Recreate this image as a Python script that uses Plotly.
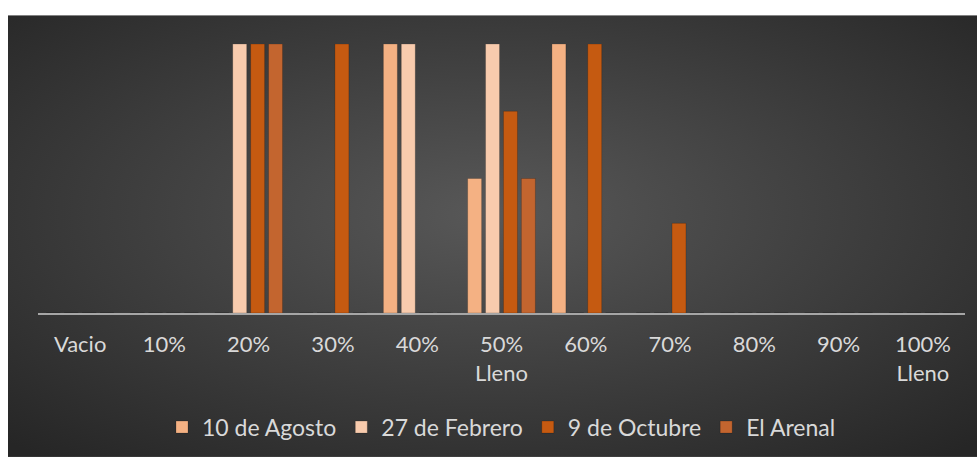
import base64
import plotly.graph_objects as go

# categories on the x axis
categories = ["Vacio", "10%", "20%", "30%", "40%", "50%<br>Lleno",
              "60%", "70%", "80%", "90%", "100%<br>Lleno"]

# series values (axis max = 12)
agosto_10 = [0, 0, 0, 0, 12, 6, 12, 0, 0, 0, 0]
febrero_27 = [0, 0, 12, 0, 12, 12, 0, 0, 0, 0, 0]
octubre_9 = [0, 0, 12, 12, 0, 9, 12, 4, 0, 0, 0]
el_arenal = [0, 0, 12, 0, 0, 6, 0, 0, 0, 0, 0]

series = [
    ("10 de Agosto", agosto_10, "#F4B183"),
    ("27 de Febrero", febrero_27, "#F8CBAD"),
    ("9 de Octubre", octubre_9, "#C55A11"),
    ("El Arenal", el_arenal, "#C3652F"),
]

# radial gradient background as an svg image
svg = """<svg xmlns='http://www.w3.org/2000/svg' width='969' height='445' preserveAspectRatio='none'>
<defs><radialGradient id='g' cx='0.5' cy='0.45' r='0.72'>
<stop offset='0' stop-color='#585858'/><stop offset='1' stop-color='#262626'/>
</radialGradient></defs>
<rect width='969' height='445' fill='url(#g)'/></svg>"""
bg_src = "data:image/svg+xml;base64," + base64.b64encode(svg.encode()).decode()

W, H = 977, 460
L, R, T, B = 38, 12, 44, 145
pw, ph = W - L - R, H - T - B
BG_X, BG_Y = 8, 15  # white border left / top of the dark area

fig = go.Figure()
for name, vals, col in series:
    fig.add_trace(go.Bar(
        x=categories, y=vals, name=name,
        marker=dict(color=col, line=dict(width=1, color="rgba(0,0,0,0.18)")),
    ))

fig.update_layout(
    width=W, height=H,
    margin=dict(l=L, r=R, t=T, b=B),
    paper_bgcolor="white",
    plot_bgcolor="rgba(0,0,0,0)",
    barmode="group",
    bargap=0.15,
    bargroupgap=0.22,
    font=dict(family="Lato, Calibri, sans-serif", color="#D9D9D9", size=22),
    showlegend=True,
    legend=dict(orientation="h", x=0.5, xanchor="center", y=(T + ph - 430) / ph,
                yanchor="middle", font=dict(size=23, color="#D9D9D9"),
                bgcolor="rgba(0,0,0,0)", itemclick=False),
    images=[dict(
        source=bg_src, xref="paper", yref="paper",
        x=(BG_X - L) / pw, y=(T + ph - BG_Y) / ph,
        sizex=(W - BG_X) / pw, sizey=(H - BG_Y) / ph,
        xanchor="left", yanchor="top", sizing="stretch", layer="below",
    )],
)

fig.update_xaxes(
    showline=True, linecolor="#A6A6A6", linewidth=2,
    showgrid=False, ticks="", ticklabelstandoff=11,
    tickfont=dict(size=22, color="#D9D9D9"),
)
fig.update_yaxes(
    range=[0, 12], dtick=12, showticklabels=False,
    showgrid=True, gridcolor="#575757", gridwidth=2, zeroline=False,
)

fig.write_html("out.html", config={"displayModeBar": False},
               post_script="document.body.style.margin='0';"
                           "document.body.style.overflow='hidden';")
